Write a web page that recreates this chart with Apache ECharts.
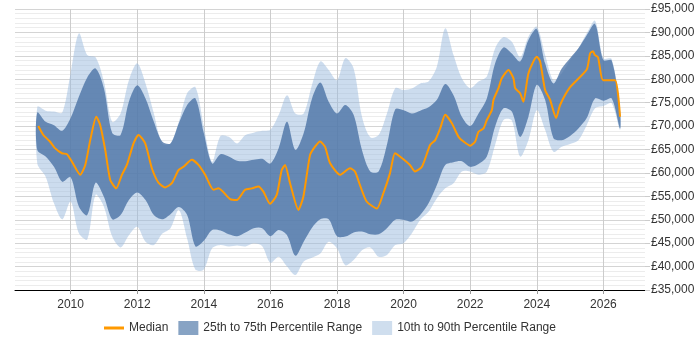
<!DOCTYPE html>
<html>
<head>
<meta charset="utf-8">
<script src="https://cdn.jsdelivr.net/npm/echarts@6/dist/echarts.min.js"></script>
<style>
  html, body { margin: 0; padding: 0; background: #fff; }
  #chart { width: 700px; height: 350px; }
</style>
</head>
<body>
<div id="chart"></div>
<script>
// quarterly grid for the percentile bands
var bandYears = [
  2009.00, 2009.25, 2009.50, 2009.75, 2010.00, 2010.25, 2010.50, 2010.75,
  2011.00, 2011.25, 2011.50, 2011.75, 2012.00, 2012.25, 2012.50, 2012.75,
  2013.00, 2013.25, 2013.50, 2013.75, 2014.00, 2014.25, 2014.50, 2014.75,
  2015.00, 2015.25, 2015.50, 2015.75, 2016.00, 2016.25, 2016.50, 2016.75,
  2017.00, 2017.25, 2017.50, 2017.75, 2018.00, 2018.25, 2018.50, 2018.75,
  2019.00, 2019.25, 2019.50, 2019.75, 2020.00, 2020.25, 2020.50, 2020.75,
  2021.00, 2021.25, 2021.50, 2021.75, 2022.00, 2022.25, 2022.50, 2022.75,
  2023.00, 2023.25, 2023.50, 2023.75, 2024.00, 2024.25, 2024.50, 2024.75,
  2025.00, 2025.25, 2025.50, 2025.75, 2026.00, 2026.25, 2026.50
];
var p90 = [
  74100, 73300, 73100, 72900, 81300, 89800, 85200, 84700,
  79500, 70900, 72700, 79800, 83400, 79100, 72700, 66300,
  66300, 70900, 77000, 78300, 69900, 62400, 67900, 67700,
  66300, 68100, 68600, 69000, 69200, 72400, 76600, 72700,
  72700, 78800, 83800, 82000, 79800, 84500, 82300, 72000,
  67600, 68100, 72700, 78100, 77700, 78000, 79100, 79500,
  82700, 90900, 85200, 80200, 78100, 79500, 80600, 86600,
  89000, 88000, 84700, 89100, 91200, 85200, 79800, 81300,
  84100, 86600, 89800, 92500, 84500, 84300, 73400
];
var p75 = [
  72900, 70900, 70200, 69000, 71700, 76300, 80400, 82300,
  78100, 68500, 68100, 75200, 78700, 75900, 70900, 66700,
  66300, 70600, 74500, 75900, 68500, 62000, 64000, 63500,
  62600, 62500, 62800, 63000, 62000, 65300, 70900, 64900,
  68500, 75900, 79300, 75200, 72700, 74500, 72400, 64900,
  60300, 60300, 66000, 73600, 73400, 72700, 73300, 74000,
  75600, 79000, 76600, 72000, 70000, 72700, 75900, 83400,
  86800, 85500, 83800, 88400, 90700, 83400, 79100, 82300,
  84500, 86600, 89400, 91800, 84100, 84000, 73400
];
var p25 = [
  64900, 63500, 61300, 58100, 59100, 52800, 51000, 57900,
  54900, 50100, 51000, 54200, 55800, 54200, 51000, 50100,
  51200, 52700, 51000, 44300, 45500, 47800, 47700, 46900,
  46500, 47300, 48200, 48200, 46500, 47800, 46700, 42300,
  45300, 48300, 50100, 50100, 46500, 46400, 47300, 47500,
  46900, 46900, 48200, 50000, 50000, 49600, 51000, 53500,
  57400, 61700, 62300, 62500, 61300, 61900, 63500, 69900,
  73800, 73100, 67700, 72000, 78800, 75600, 67400, 67000,
  67900, 69500, 71700, 75900, 75400, 75900, 69500
];
var p10 = [
  62000, 59200, 53500, 50100, 53900, 47100, 45800, 55300,
  52800, 46400, 44100, 46700, 48500, 45300, 44600, 47000,
  48200, 52100, 46000, 39300, 39400, 43900, 44600, 44300,
  44500, 44300, 45000, 44400, 40800, 42100, 40000, 38200,
  41100, 41900, 42800, 45300, 43900, 40300, 41400, 43500,
  44100, 42100, 42500, 44600, 45000, 47100, 50000, 51700,
  54600, 56700, 57800, 60300, 60300, 59600, 60300, 66000,
  71300, 71200, 63500, 67000, 73400, 69200, 64500, 65600,
  66200, 67000, 70200, 73800, 74300, 74900, 69200
];

var medianYears = [
  2009.03, 2009.18, 2009.38, 2009.53, 2009.74, 2009.89, 2010.04, 2010.29,
  2010.44, 2010.59, 2010.77, 2010.89, 2011.04, 2011.19, 2011.37, 2011.54,
  2011.69, 2011.89, 2012.04, 2012.24, 2012.44, 2012.64, 2012.84, 2013.04,
  2013.24, 2013.39, 2013.64, 2013.84, 2014.04, 2014.29, 2014.44, 2014.79,
  2014.99, 2015.24, 2015.44, 2015.64, 2015.79, 2015.99, 2016.19, 2016.34,
  2016.44, 2016.59, 2016.84, 2016.99, 2017.19, 2017.34, 2017.49, 2017.64,
  2017.79, 2018.09, 2018.39, 2018.54, 2018.69, 2018.89, 2019.20, 2019.39,
  2019.59, 2019.74, 2019.89, 2020.19, 2020.34, 2020.55, 2020.80, 2020.95,
  2021.10, 2021.25, 2021.45, 2021.65, 2021.80, 2022.00, 2022.15, 2022.25,
  2022.40, 2022.50, 2022.65, 2022.70, 2022.85, 2022.95, 2023.15, 2023.30,
  2023.35, 2023.50, 2023.60, 2023.75, 2024.00, 2024.10, 2024.25, 2024.40,
  2024.58, 2024.70, 2025.00, 2025.50, 2025.60, 2025.69, 2025.74, 2025.84,
  2025.99, 2026.35, 2026.50
];
var medianValues = [
  70000, 68100, 66700, 65300, 64200, 64000, 62400, 59600,
  61700, 67000, 72000, 70200, 64900, 58500, 56700, 59600,
  61700, 66300, 68100, 66300, 61000, 57900, 56900, 57800,
  60600, 61300, 62800, 61700, 59600, 56400, 56700, 54400,
  54200, 56400, 56700, 57100, 56000, 53400, 55300, 60600,
  61700, 57800, 52100, 54900, 63800, 65600, 66700, 65600,
  62100, 59600, 61000, 60300, 57400, 53900, 52400, 55600,
  59900, 64200, 63500, 61700, 60300, 61300, 66000, 67000,
  69500, 72400, 70600, 67700, 66700, 65800, 66700, 68800,
  69500, 71300, 73400, 75600, 78100, 80200, 82000, 80200,
  78100, 77000, 75200, 81300, 84800, 83800, 77700, 75600,
  71700, 74500, 78300, 82100, 85500, 86000, 85200, 84700,
  79800, 79800, 72000
];

var tickYears = [2010, 2012, 2014, 2016, 2018, 2020, 2022, 2024, 2026];

var darkBand = "rgba(70, 110, 163, 0.76)";
var lightBand = "rgba(153, 185, 221, 0.5)";
var medianColor = "#ff9900";

function pairs(xs, ys) {
  return ys.map(function (v, i) { return [xs[i], v]; });
}

// one filled polygon between a lower and an upper percentile line
function bandSeries(name, lower, upper, fill, legendColor) {
  return {
    name: name,
    type: "custom",
    silent: true,
    itemStyle: { color: legendColor },
    data: [[bandYears[0], lower[0]]],
    renderItem: function (params, api) {
      var pts = [];
      for (var i = 0; i < bandYears.length; i++) {
        pts.push(api.coord([bandYears[i], upper[i]]));
      }
      for (var j = bandYears.length - 1; j >= 0; j--) {
        pts.push(api.coord([bandYears[j], lower[j]]));
      }
      return {
        type: "polygon",
        shape: { points: pts, smooth: 0.3 },
        style: { fill: fill }
      };
    }
  };
}

var chart = echarts.init(document.getElementById("chart"));

chart.setOption({
  animation: false,
  textStyle: { fontFamily: "Arial, 'Liberation Sans', sans-serif" },
  grid: { left: 15, right: 55, top: 9, bottom: 60 },
  legend: {
    bottom: 10,
    left: 99,
    itemWidth: 20,
    itemHeight: 14,
    itemGap: 10,
    textStyle: { fontSize: 12, color: "#333" },
    data: [
      { name: "Median", icon: "path://M0,0L20,0L20,3L0,3Z", itemStyle: { color: medianColor } },
      { name: "25th to 75th Percentile Range", icon: "rect", itemStyle: { color: "#87a3c4" } },
      { name: "10th to 90th Percentile Range", icon: "rect", itemStyle: { color: "#cfdeee" } }
    ]
  },
  xAxis: {
    type: "value",
    min: 2008.33,
    max: 2027.25,
    axisLine: { lineStyle: { color: "#000", width: 1 } },
    axisTick: { show: true, length: 4, lineStyle: { color: "#999" }, customValues: tickYears },
    axisLabel: { color: "#333", fontSize: 12, margin: 9, customValues: tickYears, formatter: function (v) { return String(v); } },
    splitLine: { show: true, lineStyle: { color: "#ccc" } }
  },
  yAxis: {
    type: "value",
    position: "right",
    min: 35000,
    max: 95000,
    interval: 5000,
    axisLine: { show: false },
    axisTick: { show: true, length: 5, lineStyle: { color: "#ccc" } },
    axisLabel: {
      color: "#333",
      fontSize: 12,
      margin: 6,
      formatter: function (v) { return "£" + String(v).replace(/\B(?=(\d{3})+(?!\d))/g, ","); }
    },
    splitLine: { show: true, lineStyle: { color: "#d4d4d4" } },
    minorTick: { show: false, splitNumber: 5 },
    minorSplitLine: { show: true, lineStyle: { color: "#ececec" } }
  },
  series: [
    bandSeries("10th to 90th Percentile Range", p10, p90, lightBand, "#cfdeee"),
    bandSeries("25th to 75th Percentile Range", p25, p75, darkBand, "#87a3c4"),
    {
      name: "Median",
      type: "line",
      smooth: 0.2,
      symbol: "none",
      z: 5,
      itemStyle: { color: medianColor },
      lineStyle: { color: medianColor, width: 2 },
      data: pairs(medianYears, medianValues)
    }
  ]
});
</script>
</body>
</html>
